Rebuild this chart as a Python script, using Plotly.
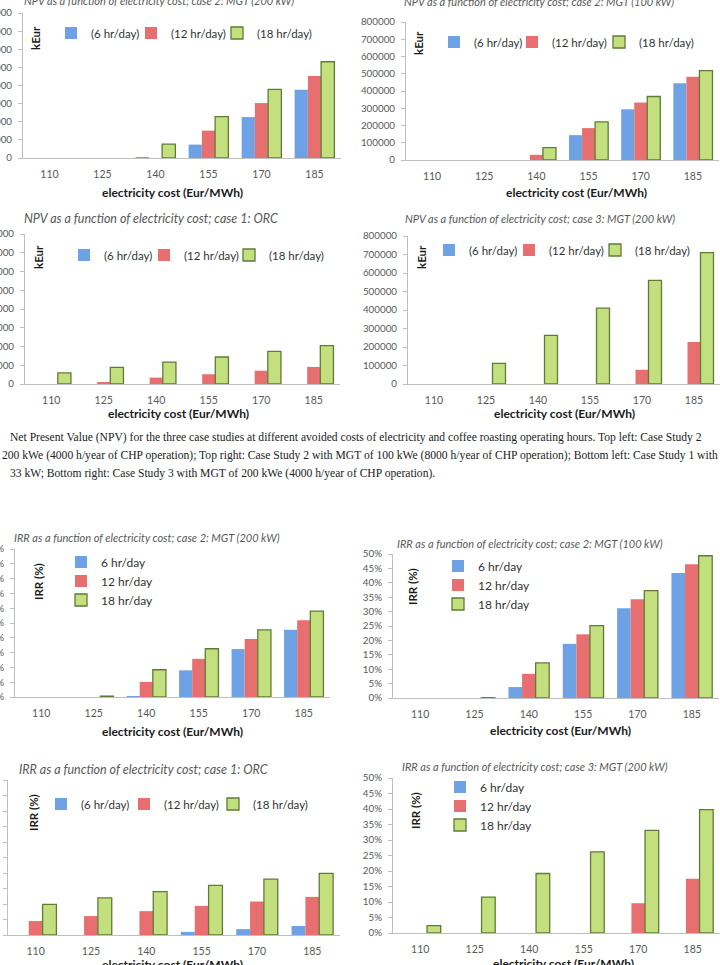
import plotly.graph_objects as go

W, H = 720, 965

categories = ["110", "125", "140", "155", "170", "185"]
series_names_paren = ["(6 hr/day)", "(12 hr/day)", "(18 hr/day)"]
series_names_plain = ["6 hr/day", "12 hr/day", "18 hr/day"]

# NPV (kEur) - case 2, MGT 200 kW
npv_c2_200_6h = [0, 0, 2000, 74000, 226000, 377000]
npv_c2_200_12h = [0, 0, 0, 151000, 303000, 452000]
npv_c2_200_18h = [0, 0, 77000, 228000, 379000, 531000]
# NPV - case 2, MGT 100 kW
npv_c2_100_6h = [0, 0, 0, 144000, 294000, 445000]
npv_c2_100_12h = [0, 0, 30000, 185000, 333000, 482000]
npv_c2_100_18h = [0, 0, 72000, 221000, 368000, 518000]
# NPV - case 1, ORC
npv_c1_6h = [0, 0, 0, 0, 0, 0]
npv_c1_12h = [0, 11000, 34000, 52000, 71000, 91000]
npv_c1_18h = [59000, 89000, 117000, 144000, 174000, 205000]
# NPV - case 3, MGT 200 kW
npv_c3_6h = [0, 0, 0, 0, 0, 0]
npv_c3_12h = [0, 0, 0, 0, 77000, 227000]
npv_c3_18h = [0, 112000, 263000, 410000, 560000, 710000]

# IRR (%) - case 2, MGT 200 kW
irr_c2_200_6h = [0, 0, 0.1, 9.0, 16.2, 22.7]
irr_c2_200_12h = [0, 0, 5.1, 12.9, 19.6, 25.9]
irr_c2_200_18h = [0, 0.3, 9.2, 16.3, 22.7, 29.0]
# IRR - case 2, MGT 100 kW
irr_c2_100_6h = [0, 0, 3.8, 18.8, 31.2, 43.4]
irr_c2_100_12h = [0, 0, 8.4, 22.1, 34.3, 46.4]
irr_c2_100_18h = [0, 0.1, 12.2, 25.1, 37.3, 49.4]
# IRR - case 1, ORC
irr_c1_6h = [0, 0, 0, 1.0, 1.9, 2.9]
irr_c1_12h = [4.5, 6.1, 7.7, 9.4, 10.8, 12.3]
irr_c1_18h = [9.9, 12.0, 14.0, 16.0, 18.0, 19.9]
# IRR - case 3, MGT 200 kW
irr_c3_6h = [0, 0, 0, 0, 0, 0]
irr_c3_12h = [0, 0, 0, 0, 9.6, 17.5]
irr_c3_18h = [2.4, 11.6, 19.2, 26.2, 33.1, 39.8]

panel_titles = [
    "NPV as a function of electricity cost; case 2: MGT (200 kW)",
    "NPV as a function of electricity cost; case 2: MGT (100 kW)",
    "NPV as a function of electricity cost; case 1: ORC",
    "NPV as a function of electricity cost; case 3: MGT (200 kW)",
    "IRR as a function of electricity cost; case 2: MGT (200 kW)",
    "IRR as a function of electricity cost; case 2: MGT (100 kW)",
    "IRR as a function of electricity cost; case 1: ORC",
    "IRR as a function of electricity cost; case 3: MGT (200 kW)",
]
x_title = "electricity cost (Eur/MWh)"
caption_lines = [
    "Net Present Value (NPV) for the three case studies at different avoided costs of electricity and coffee roasting operating hours. Top left: Case Study 2",
    "200 kWe (4000 h/year of CHP operation); Top right: Case Study 2 with MGT of 100 kWe (8000 h/year of CHP operation); Bottom left: Case Study 1 with",
    " 33 kW; Bottom right: Case Study 3 with MGT of 200 kWe (4000 h/year of CHP operation).",
]

COLORS = ["#6EA2E4", "#E86F70", "#C4E07E"]
LINES = ["#6EA2E4", "#E86F70", "#5E7C38"]
GRAY = "#595959"
AX = "#BFBFBF"
FONT = "Lato, Liberation Sans, sans-serif"


def fx(px):
    return px / W


def fy(py):
    return 1 - py / H


def nz(vals):
    # zero-height bars are not drawn in the original
    return [v if v else None for v in vals]


# leg "h": one legend per series, positioned by symbol centre x (list) and row centre y
# leg "v": one stacked legend, positioned by legend left x and middle row y
panels = [
    dict(box=(23, 341, 13, 158), kind="npv", data=(npv_c2_200_6h, npv_c2_200_12h, npv_c2_200_18h),
         leg="h", legx=(71, 151, 237), legy=33, ytitle=(35, 38), title=(22, 0, 11), xt=(172, 192)),
    dict(box=(406, 719, 22, 160), kind="npv", data=(npv_c2_100_6h, npv_c2_100_12h, npv_c2_100_18h),
         leg="h", legx=(454, 532, 619), legy=42, ytitle=(419, 43), title=(402, 1, 11), xt=(576, 193)),
    dict(box=(25, 340, 234, 384), kind="npv", data=(npv_c1_6h, npv_c1_12h, npv_c1_18h),
         leg="h", legx=(84, 164, 249), legy=255, ytitle=(39, 257), title=(22, 218, 12.5), xt=(178, 413)),
    dict(box=(408, 720, 236, 384), kind="npv", data=(npv_c3_6h, npv_c3_12h, npv_c3_18h),
         leg="h", legx=(449, 529, 615), legy=250, ytitle=(422, 257), title=(403, 218, 11), xt=(564, 413)),
    dict(box=(15, 330, 549, 697), kind="irr", data=(irr_c2_200_6h, irr_c2_200_12h, irr_c2_200_18h),
         leg="v", legx=(61,), legy=581, ytitle=(38, 582), title=(12, 537, 11), xt=(172, 731)),
    dict(box=(393, 719, 554, 698), kind="irr", data=(irr_c2_100_6h, irr_c2_100_12h, irr_c2_100_18h),
         leg="v", legx=(438,), legy=585, ytitle=(412, 587), title=(395, 543, 11), xt=(560, 730)),
    dict(box=(8, 340, 780, 935), kind="irr", data=(irr_c1_6h, irr_c1_12h, irr_c1_18h),
         leg="h", legx=(61, 144, 233), legy=804, ytitle=(33, 813), title=(17, 769, 12.5), xt=(172, 964)),
    dict(box=(393, 720, 778, 933), kind="irr", data=(irr_c3_6h, irr_c3_12h, irr_c3_18h),
         leg="v", legx=(440,), legy=806, ytitle=(415, 810), title=(400, 766, 11), xt=(563, 963)),
]

fig = go.Figure()
layout = dict(
    width=W, height=H, margin=dict(l=0, r=0, t=0, b=0),
    paper_bgcolor="white", plot_bgcolor="white",
    barmode="group", bargap=0.25, bargroupgap=0.0,
    font=dict(family=FONT, color=GRAY),
    template="none",
)
annotations = []
leg_count = [0]


def new_legend(x_px, y_px, size):
    leg_count[0] += 1
    k = leg_count[0]
    name = "legend" if k == 1 else f"legend{k}"
    layout[name] = dict(
        x=fx(x_px), y=fy(y_px), xanchor="left", yanchor="middle",
        orientation="v", bgcolor="rgba(0,0,0,0)", borderwidth=0,
        font=dict(family=FONT, size=size, color="#333333"),
        itemwidth=30, tracegroupgap=0, traceorder="normal",
    )
    return name


for i, p in enumerate(panels):
    n = i + 1
    xa = "x" if n == 1 else f"x{n}"
    ya = "y" if n == 1 else f"y{n}"
    if p["leg"] == "v":
        vname = new_legend(p["legx"][0], p["legy"], 12)
        leg_names = [vname] * 3
        names = series_names_plain
    else:
        # symbol centre sits 20 px right of a legend's left edge
        leg_names = [new_legend(sx - 20, p["legy"], 11.5) for sx in p["legx"]]
        names = series_names_paren
    for s in range(3):
        fig.add_trace(go.Bar(
            x=categories, y=nz(p["data"][s]), name=names[s],
            marker=dict(color=COLORS[s], line=dict(color=LINES[s], width=1.3 if s == 2 else 0)),
            xaxis=xa, yaxis=ya, legend=leg_names[s], showlegend=True,
        ))
    l, r, t, b = p["box"]
    xkey = "xaxis" if n == 1 else f"xaxis{n}"
    ykey = "yaxis" if n == 1 else f"yaxis{n}"
    layout[xkey] = dict(
        domain=[fx(l), fx(r)], anchor=ya, type="category",
        showline=True, linecolor=AX, linewidth=1.2, ticks="", showgrid=False,
        tickfont=dict(family=FONT, size=10.5, color=GRAY), automargin=False,
        ticklabelstandoff=6, fixedrange=True,
    )
    if p["kind"] == "npv":
        ydict = dict(range=[0, 800000], tickmode="linear", tick0=0, dtick=100000, tickformat="d")
    else:
        ydict = dict(range=[0, 50], tickmode="linear", tick0=0, dtick=5, ticksuffix="%",
                     showticksuffix="all")
    ydict.update(
        domain=[fy(b), fy(t)], anchor=xa, showline=True, linecolor=AX, linewidth=1,
        ticks="outside", ticklen=4, tickcolor=AX, showgrid=False, zeroline=False,
        tickfont=dict(family=FONT, size=9.8, color=GRAY), automargin=False,
        ticklabelstandoff=4, fixedrange=True,
    )
    layout[ykey] = ydict
    yx, yy = p["ytitle"]
    annotations.append(dict(
        text="<b>kEur</b>" if p["kind"] == "npv" else "<b>IRR (%)</b>",
        x=fx(yx), y=fy(yy), xref="paper", yref="paper", textangle=-90,
        showarrow=False, font=dict(family=FONT, size=11.5, color="#1a1a1a"),
        xanchor="center", yanchor="middle",
    ))
    tx, ty, ts = p["title"]
    annotations.append(dict(
        text=f"<i>{panel_titles[i]}</i>", x=fx(tx), y=fy(ty), xref="paper", yref="paper",
        showarrow=False, xanchor="left", yanchor="middle",
        font=dict(family=FONT, size=ts, color=GRAY),
    ))
    ax_x, ax_y = p["xt"]
    annotations.append(dict(
        text=f"<b>{x_title}</b>", x=fx(ax_x), y=fy(ax_y), xref="paper", yref="paper",
        showarrow=False, xanchor="center", yanchor="middle",
        font=dict(family=FONT, size=12, color="#1a1a1a"),
    ))

cap_pos = [(8, 438), (0, 456), (5, 473)]
for line, (cx, cy) in zip(caption_lines, cap_pos):
    annotations.append(dict(
        text=line, x=fx(cx), y=fy(cy), xref="paper", yref="paper", showarrow=False,
        xanchor="left", yanchor="middle",
        font=dict(family="Liberation Serif, Times New Roman, serif", size=11.6, color="#222222"),
    ))

layout["annotations"] = annotations
fig.update_layout(**layout)
fig.write_html("out.html")
